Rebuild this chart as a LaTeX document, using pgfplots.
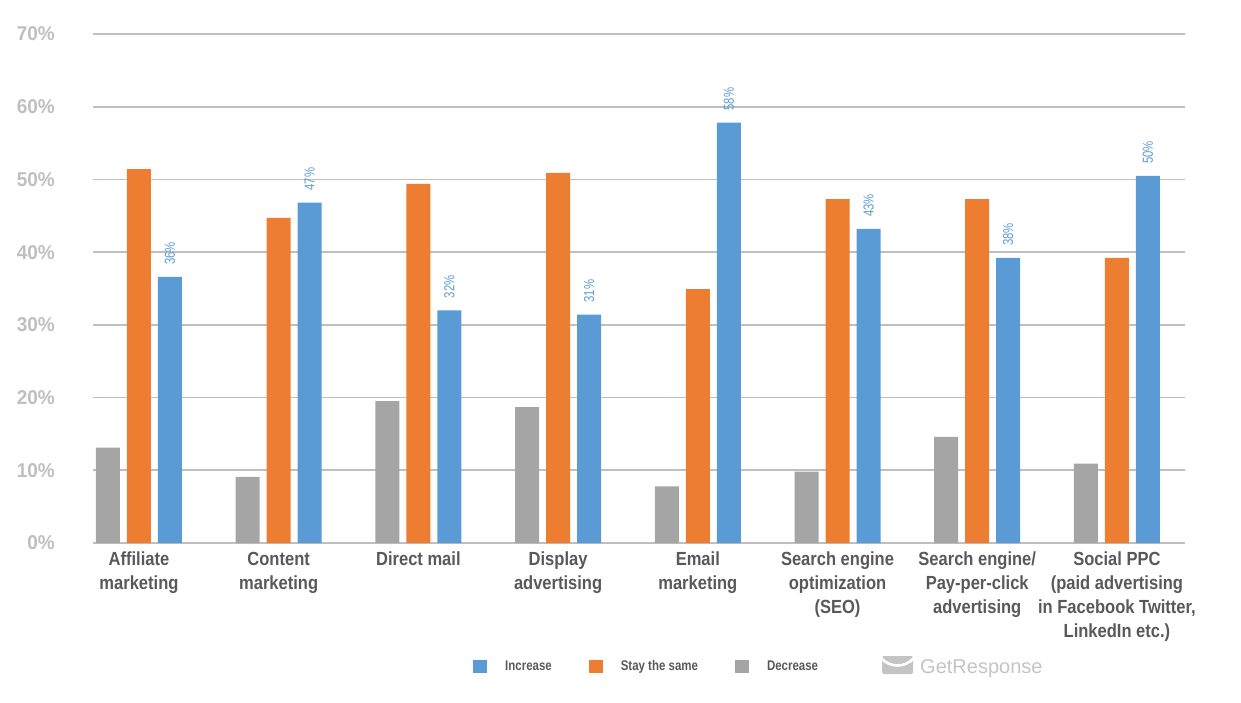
\documentclass[border=0pt]{standalone}
\usepackage{fontspec}
\usepackage{pgfplots}
\pgfplotsset{compat=1.18}
\newfontfamily\catfont{Liberation Sans}[FakeStretch=0.87]
\newfontfamily\tickfont{Liberation Sans}[FakeStretch=0.95]
\newfontfamily\legfont{Liberation Sans}[FakeStretch=0.82]
\newfontfamily\labfont{Liberation Sans}[FakeStretch=0.78]
\newfontfamily\logofont{Liberation Sans}
\definecolor{grayC}{HTML}{A5A5A5}
\definecolor{orangeC}{HTML}{ED7D31}
\definecolor{blueC}{HTML}{5B9BD5}
\definecolor{textC}{HTML}{595959}
\definecolor{tickC}{HTML}{BFBFBF}
\definecolor{gridC}{HTML}{BFBFBF}
\definecolor{logoC}{HTML}{C4C4C4}
\begin{document}
\begin{tikzpicture}
\useasboundingbox (0pt,0pt) rectangle (1241pt,702pt);
\begin{axis}[
  at={(93pt,159pt)}, anchor=south west,
  scale only axis, width=1092pt, height=509pt,
  xmin=-0.329, xmax=7.487, ymin=0, ymax=70,
  clip=false,
  axis line style={draw=none},
  major tick length=0pt,
  ymajorgrids, grid style={color=gridC, line width=1.8pt},
  ytick={0,10,20,30,40,50,60,70},
  yticklabels={0\%,10\%,20\%,30\%,40\%,50\%,60\%,70\%},
  yticklabel style={anchor=east, inner sep=0pt, xshift=-38pt, text=tickC,
    font=\tickfont\bfseries\fontsize{20}{20}\selectfont},
  xtick={0,1,2,3,4,5,6,7},
  xticklabels={{Affiliate\\marketing},{Content\\marketing},{Direct mail},{Display\\advertising},{Email\\marketing},{Search engine\\optimization\\(SEO)},{Search engine/\\Pay-per-click\\advertising},{Social PPC\\(paid advertising\\in Facebook Twitter,\\LinkedIn etc.)}},
  xticklabel style={anchor=north, inner sep=0pt, yshift=-9pt, align=center, text=textC,
    font=\catfont\bfseries\fontsize{19}{24}\selectfont},
  legend columns=3,
  legend cell align=left,
  legend image code/.code={\fill[#1] (0pt,-6.5pt) rectangle (14pt,6.5pt);},
  legend style={at={(0.348,-0.2417)}, anchor=west, draw=none, fill=none, inner sep=0pt,
    font=\legfont\bfseries\fontsize{14}{14}\selectfont, text=textC,
    nodes={inner sep=0pt},
    /tikz/every odd column/.append style={column sep=18pt},
    /tikz/every even column/.append style={column sep=37pt}},
]
\addplot[ybar, bar width=24pt, bar shift=-31pt, fill=grayC, draw=none, forget plot]
  coordinates {(0,13.1) (1,9.1) (2,19.5) (3,18.7) (4,7.8) (5,9.8) (6,14.6) (7,10.9)};
\addplot[ybar, bar width=24pt, bar shift=0pt, fill=orangeC, draw=none, forget plot]
  coordinates {(0,51.4) (1,44.7) (2,49.4) (3,50.9) (4,34.9) (5,47.3) (6,47.3) (7,39.2)};
\addplot[ybar, bar width=24pt, bar shift=31pt, fill=blueC, draw=none, forget plot,
  nodes near coords, point meta=explicit symbolic,
  nodes near coords align={west},
  every node near coord/.append style={xshift=31pt, rotate=90, anchor=west, inner xsep=12pt, inner ysep=0pt,
    text=blueC, font=\labfont\fontsize{14.5}{14.5}\selectfont}]
  coordinates {(0,36.6) [36\%] (1,46.8) [47\%] (2,32.0) [32\%] (3,31.4) [31\%]
               (4,57.8) [58\%] (5,43.2) [43\%] (6,39.2) [38\%] (7,50.5) [50\%]};
\addlegendimage{fill=blueC, draw=none}
\addlegendentry{Increase}
\addlegendimage{fill=orangeC, draw=none}
\addlegendentry{Stay the same}
\addlegendimage{fill=grayC, draw=none}
\addlegendentry{Decrease}
\end{axis}
% GetResponse logo
\fill[logoC, rounded corners=1.5pt] (882pt,28pt) rectangle (913pt,46pt);
\draw[white, line width=2.6pt] (881pt,44pt) .. controls (890pt,34pt) and (905pt,34pt) .. (914pt,44pt);
\node[anchor=base west, inner sep=0pt, text=logoC, font=\logofont\fontsize{20}{20}\selectfont] at (920pt,29pt) {GetResponse};
\end{tikzpicture}
\end{document}
